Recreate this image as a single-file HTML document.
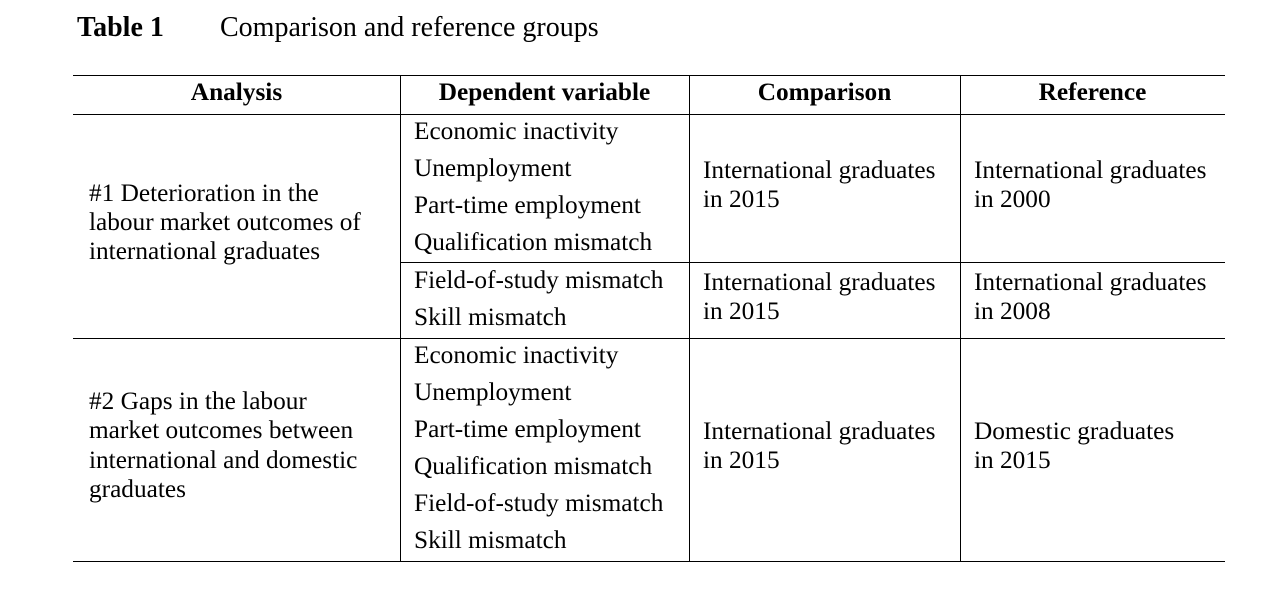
<!DOCTYPE html>
<html><head><meta charset="utf-8"><style>
body{margin:0;width:1284px;height:612px;background:#fff;position:relative;font-family:"Liberation Serif",serif;color:#000;overflow:hidden}
.t{position:absolute;font-size:25.3px;line-height:30px;white-space:nowrap}
.b{font-weight:bold}
.h{position:absolute;height:1px;background:#000}
.v{position:absolute;width:1px;background:#000}
</style></head><body>
<div class="t b" style="left:77px;top:13px;font-size:28px">Table 1</div>
<div class="t" style="left:220px;top:13px;font-size:28px">Comparison and reference groups</div>

<div class="h" style="left:73px;top:75px;width:1152px"></div>
<div class="h" style="left:73px;top:114px;width:1152px"></div>
<div class="h" style="left:400px;top:262px;width:825px"></div>
<div class="h" style="left:73px;top:338px;width:1152px"></div>
<div class="h" style="left:73px;top:561px;width:1152px"></div>
<div class="v" style="left:400px;top:75px;height:487px"></div>
<div class="v" style="left:689px;top:75px;height:487px"></div>
<div class="v" style="left:960px;top:75px;height:487px"></div>

<div class="t b" style="left:73px;width:327px;text-align:center;top:77px">Analysis</div>
<div class="t b" style="left:400px;width:289px;text-align:center;top:77px">Dependent variable</div>
<div class="t b" style="left:689px;width:271px;text-align:center;top:77px">Comparison</div>
<div class="t b" style="left:960px;width:265px;text-align:center;top:77px">Reference</div>

<div class="t" style="left:89px;top:179px;line-height:29px">#1 Deterioration in the<br>labour market outcomes of<br>international graduates</div>
<div class="t" style="left:89px;top:387px;line-height:29.3px">#2 Gaps in the labour<br>market outcomes between<br>international and domestic<br>graduates</div>

<div class="t" style="left:414px;top:113px;line-height:37px">Economic inactivity<br>Unemployment<br>Part-time employment<br>Qualification mismatch</div>
<div class="t" style="left:414px;top:262px;line-height:37px">Field-of-study mismatch<br>Skill mismatch</div>
<div class="t" style="left:414px;top:337px;line-height:37px">Economic inactivity<br>Unemployment<br>Part-time employment<br>Qualification mismatch<br>Field-of-study mismatch<br>Skill mismatch</div>

<div class="t" style="left:703px;top:156px;line-height:29px">International graduates<br>in 2015</div>
<div class="t" style="left:703px;top:268px;line-height:29px">International graduates<br>in 2015</div>
<div class="t" style="left:703px;top:417px;line-height:29px">International graduates<br>in 2015</div>

<div class="t" style="left:974px;top:156px;line-height:29px">International graduates<br>in 2000</div>
<div class="t" style="left:974px;top:268px;line-height:29px">International graduates<br>in 2008</div>
<div class="t" style="left:974px;top:417px;line-height:29px">Domestic graduates<br>in 2015</div>
</body></html>
